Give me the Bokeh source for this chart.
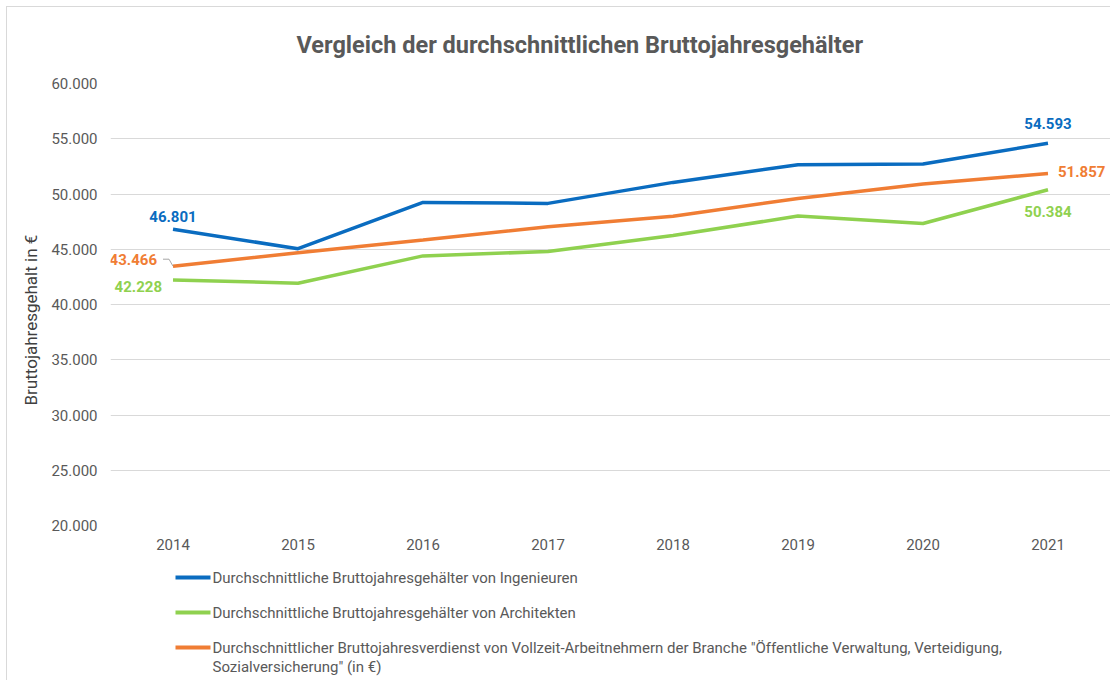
from bokeh.plotting import figure
from bokeh.layouts import column
from bokeh.models import ColumnDataSource, Range1d, FixedTicker, Title
from bokeh.core.properties import value
from bokeh.embed import file_html
from bokeh.resources import INLINE

# ---------------- data ----------------
years = [2014, 2015, 2016, 2017, 2018, 2019, 2020, 2021]
ingenieure = [46801, 45050, 49240, 49150, 51050, 52650, 52720, 54593]
architekten = [42228, 41930, 44400, 44800, 46250, 48000, 47330, 50384]
oeffentlich = [43466, 44690, 45840, 47040, 47990, 49600, 50900, 51857]
y_ticks = [20000, 25000, 30000, 35000, 40000, 45000, 50000, 55000, 60000]

name_ing = "Durchschnittliche Bruttojahresgehälter von Ingenieuren"
name_arch = "Durchschnittliche Bruttojahresgehälter von Architekten"
name_oeff_1 = 'Durchschnittlicher Bruttojahresverdienst von Vollzeit-Arbeitnehmern der Branche "Öffentliche Verwaltung, Verteidigung,'
name_oeff_2 = 'Sozialversicherung" (in €)'
title_text = "Vergleich der durchschnittlichen Bruttojahresgehälter"
y_label = "Bruttojahresgehalt in €"

BLUE = "#0a6cc0"
GREEN = "#8fd14f"
ORANGE = "#f07d34"
FONT = "Roboto"


def fmt(v):
    return f"{v:,}".replace(",", ".")


FRAME_L = 110
p = figure(
    width=1110, height=560,
    output_backend="svg", toolbar_location=None,
    x_range=Range1d(years[0] - 0.5, years[-1] + 0.5),
    y_range=Range1d(y_ticks[0], y_ticks[-1]),
    min_border_left=FRAME_L, min_border_right=0,
    min_border_top=83, min_border_bottom=35,
    background_fill_color="white", border_fill_color=None,
)
p.outline_line_color = None

# title
p.title = Title(text=title_text, align="left", offset=186, standoff=49,
                text_font=FONT, text_font_size="23.5px", text_font_style="bold",
                text_color="#595959")

# axes
p.xaxis.ticker = FixedTicker(ticks=years)
p.yaxis.ticker = FixedTicker(ticks=y_ticks)
p.yaxis.major_label_overrides = {t_: fmt(t_) for t_ in y_ticks}
for ax in (p.xaxis[0], p.yaxis[0]):
    ax.axis_line_color = None
    ax.major_tick_line_color = None
    ax.minor_tick_line_color = None
    ax.major_tick_out = 0
    ax.major_tick_in = 0
    ax.minor_tick_out = 0
    ax.major_label_text_font = FONT
    ax.major_label_text_font_size = "15px"
    ax.major_label_text_color = "#595959"
p.xaxis.major_label_standoff = 13
p.yaxis.major_label_standoff = 13

# y-axis title (as side title so it can be shifted)
ytitle = Title(text=y_label, align="left", offset=120, standoff=16,
               text_font=FONT, text_font_size="17px", text_font_style="normal",
               text_color="#404040")
p.add_layout(ytitle, "left")

p.xgrid.grid_line_color = None
p.ygrid.grid_line_color = "#d9d9d9"
p.ygrid.grid_line_width = 1

# lines
p.line(years, ingenieure, line_color=BLUE, line_width=3.5)
p.line(years, architekten, line_color=GREEN, line_width=3.5)
p.line(years, oeffentlich, line_color=ORANGE, line_width=3.5)

# leader line for the first orange label
px_year = 1000 / (len(years))
px_unit = 442 / (y_ticks[-1] - y_ticks[0])
lx = [years[0] - 10 / px_year, years[0] - 4 / px_year, years[0]]
ly = [oeffentlich[0] + 7 / px_unit, oeffentlich[0] + 7 / px_unit, oeffentlich[0]]
p.line(lx, ly, line_color="#a6a6a6", line_width=1)

# data labels
lab = ColumnDataSource(dict(
    x=[years[0], years[-1], years[0], years[-1], years[0], years[-1]],
    y=[ingenieure[0], ingenieure[-1], oeffentlich[0], oeffentlich[-1], architekten[0], architekten[-1]],
    text=[fmt(ingenieure[0]), fmt(ingenieure[-1]), fmt(oeffentlich[0]), fmt(oeffentlich[-1]),
          fmt(architekten[0]), fmt(architekten[-1])],
    color=[BLUE, BLUE, ORANGE, ORANGE, GREEN, GREEN],
    align=["center", "center", "right", "left", "right", "center"],
    xo=[0, 0, -16, 10, -11, 0],
    yo=[-13, -20, -7, -2, 7, 22],
))
p.text(x="x", y="y", text="text", source=lab, text_color="color",
       text_align="align", text_baseline="middle", x_offset="xo", y_offset="yo",
       text_font=value(FONT), text_font_size="15px", text_font_style="bold")

# ---------------- legend (separate strip below, pixel coordinates) ----------------
LW, LH = 1110, 120
lg = figure(width=LW, height=LH, output_backend="svg", toolbar_location=None,
            x_range=Range1d(FRAME_L, LW), y_range=Range1d(LH, 0),
            min_border_left=FRAME_L, min_border_right=0, min_border_top=0, min_border_bottom=0,
            background_fill_color="white", border_fill_color=None)
lg.axis.visible = False
lg.grid.visible = False
lg.outline_line_color = None

leg_names = [name_ing, name_arch, name_oeff_1]
leg_colors = [BLUE, GREEN, ORANGE]
row_y = [17, 52, 87]
glyph_x0, glyph_x1, text_x = 175, 210, 212
lg.multi_line(xs=[[glyph_x0, glyph_x1] for _ in row_y], ys=[[y, y] for y in row_y],
              line_color=leg_colors, line_width=4)
lg.text(x=[text_x] * 4, y=row_y + [row_y[-1] + 19], text=leg_names + [name_oeff_2],
        text_baseline="middle", text_align="left", text_color="#595959",
        text_font=value(FONT), text_font_size="15px")

layout = column(p, lg, spacing=0)
layout.styles = {
    "background": ("linear-gradient(#d9d9d9,#d9d9d9) 6px 6px / 1px 100% no-repeat, "
                   "linear-gradient(#d9d9d9,#d9d9d9) 6px 6px / 100% 1px no-repeat, white"),
}

open("out.html", "w").write(file_html(layout, INLINE))
